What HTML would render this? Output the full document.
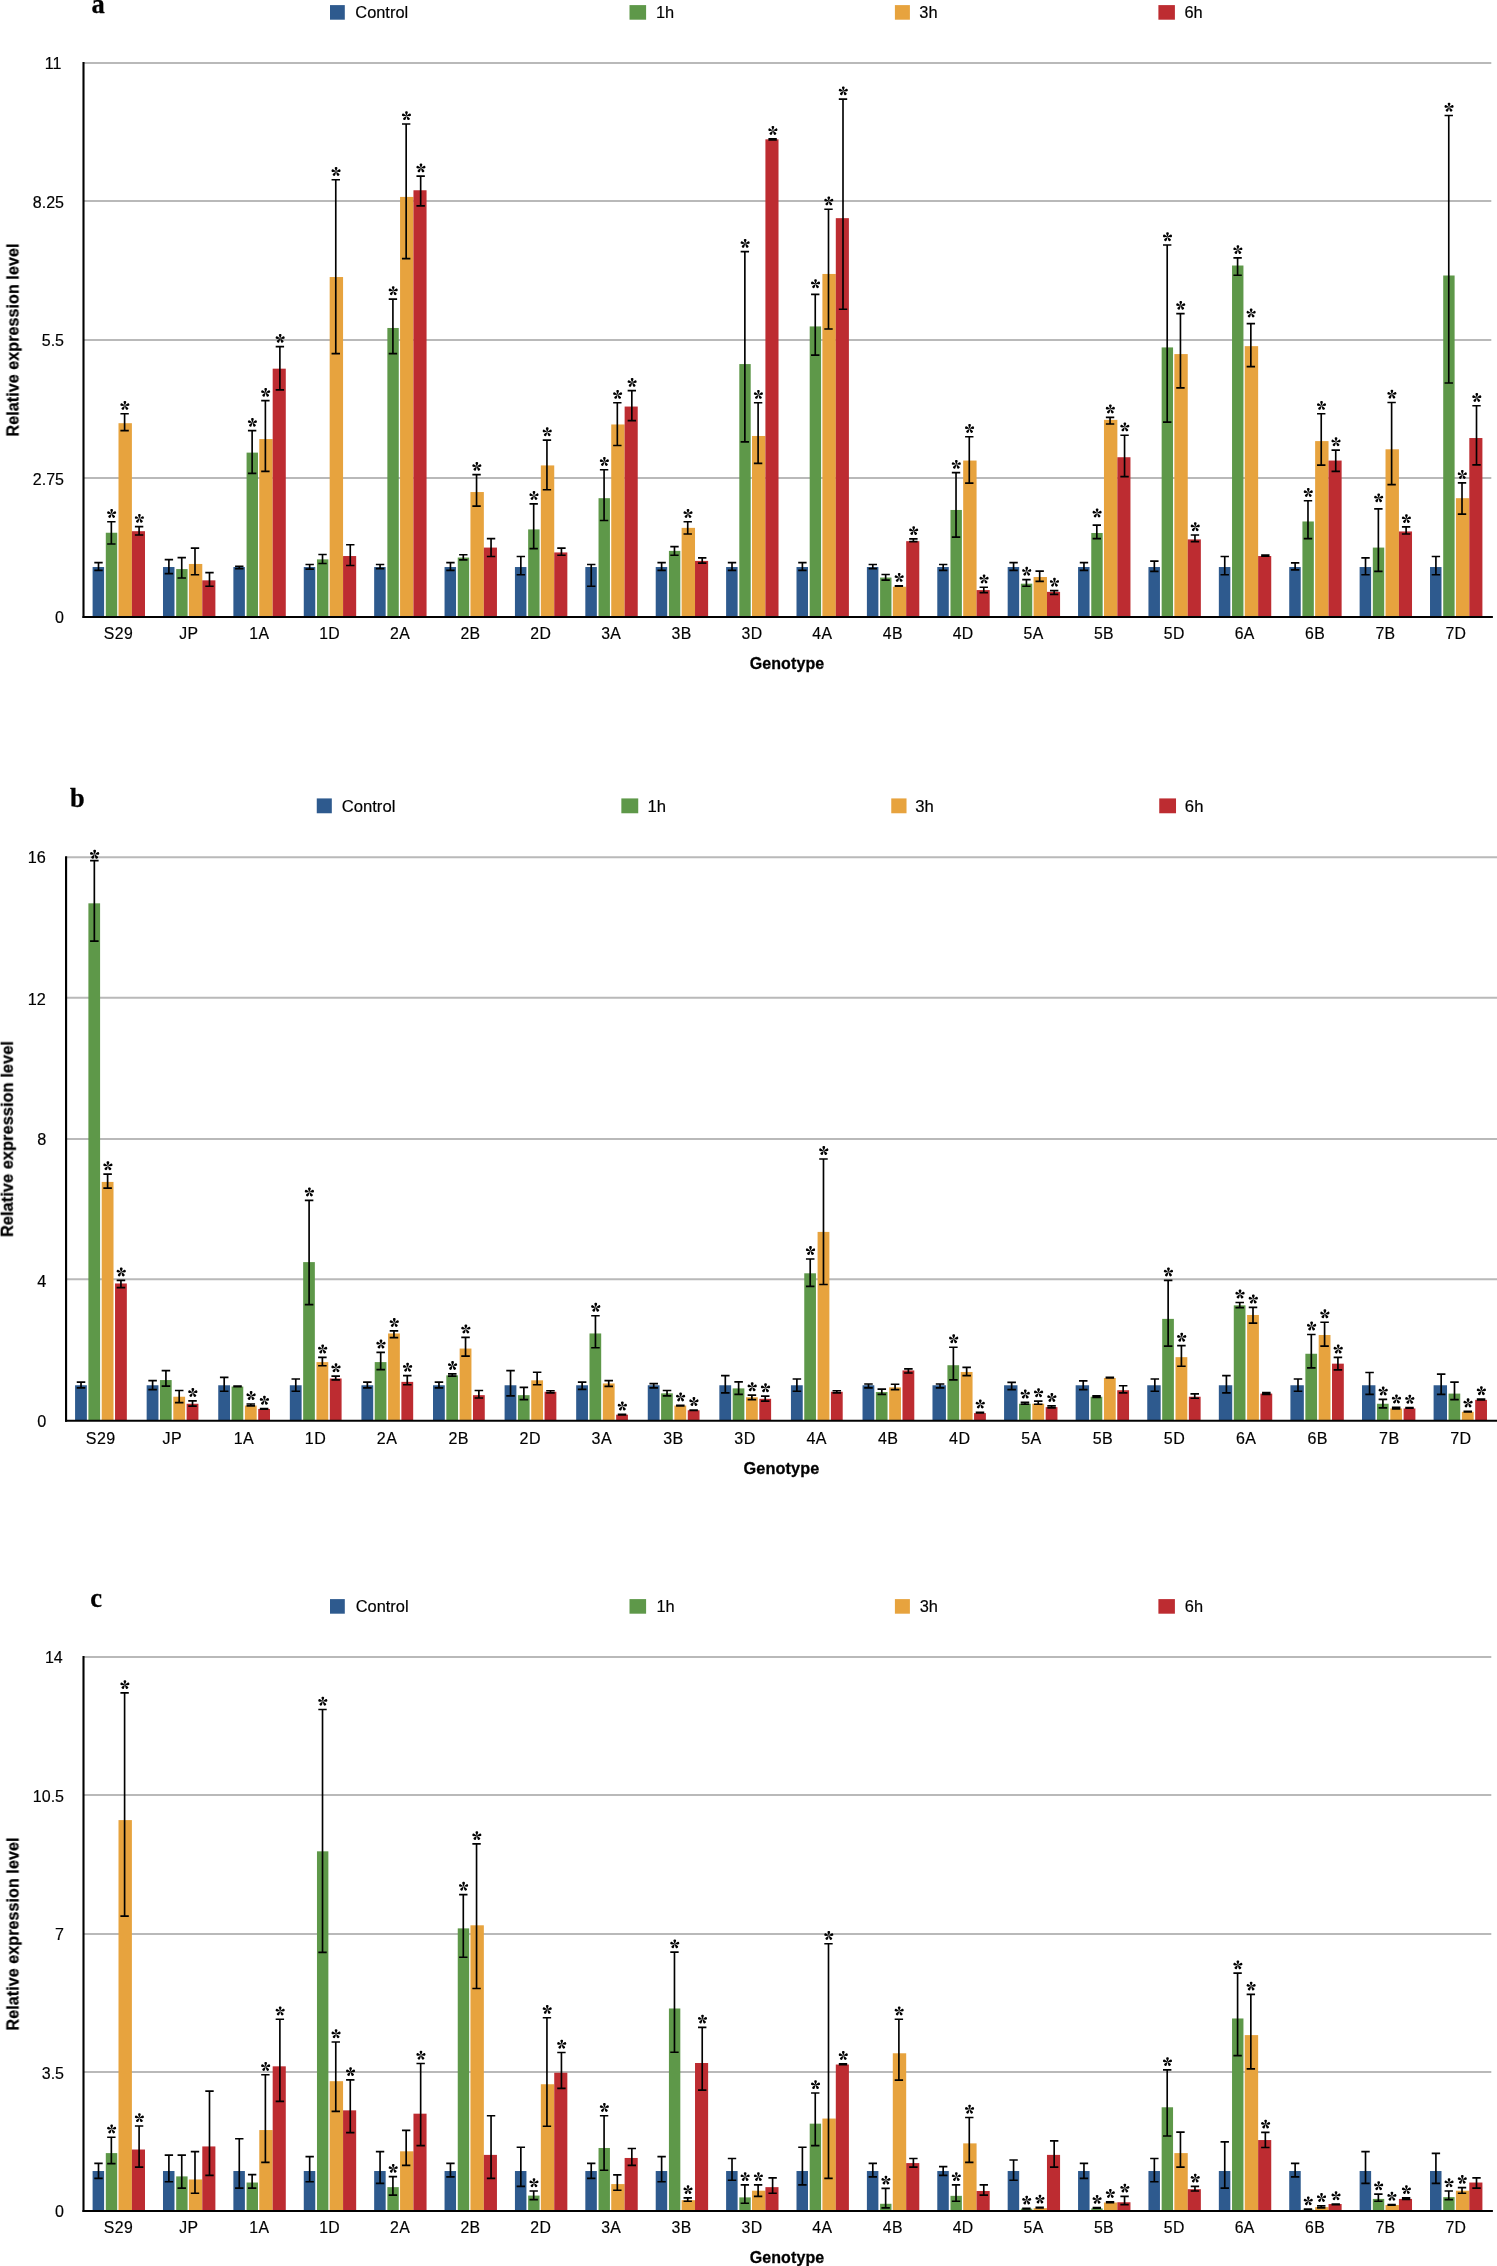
<!DOCTYPE html>
<html><head><meta charset="utf-8"><title>Figure</title>
<style>html,body{margin:0;padding:0;background:#fff}svg{display:block}svg text{stroke:#000;stroke-width:0.18px}svg text[font-weight=bold]{stroke-width:0.28px}</style>
</head><body>
<svg width="1497" height="2266" viewBox="0 0 1497 2266" font-family='"Liberation Sans", sans-serif' fill="#000">
<defs><g id="st"><path transform="rotate(0)" d="M0 0.1C-0.3 -1 -1.4 -2.7 -1.35 -3.7C-1.3 -5.05 1.3 -5.05 1.35 -3.7C1.4 -2.7 0.3 -1 0 0.1Z"/><path transform="rotate(72)" d="M0 0.1C-0.3 -1 -1.4 -2.7 -1.35 -3.7C-1.3 -5.05 1.3 -5.05 1.35 -3.7C1.4 -2.7 0.3 -1 0 0.1Z"/><path transform="rotate(144)" d="M0 0.1C-0.3 -1 -1.4 -2.7 -1.35 -3.7C-1.3 -5.05 1.3 -5.05 1.35 -3.7C1.4 -2.7 0.3 -1 0 0.1Z"/><path transform="rotate(216)" d="M0 0.1C-0.3 -1 -1.4 -2.7 -1.35 -3.7C-1.3 -5.05 1.3 -5.05 1.35 -3.7C1.4 -2.7 0.3 -1 0 0.1Z"/><path transform="rotate(288)" d="M0 0.1C-0.3 -1 -1.4 -2.7 -1.35 -3.7C-1.3 -5.05 1.3 -5.05 1.35 -3.7C1.4 -2.7 0.3 -1 0 0.1Z"/></g></defs>
<g transform="translate(0,0) scale(1)" opacity="0.999">
<text x="64" y="623" text-anchor="end" font-size="16">0</text>
<line x1="83.5" x2="1491.3" y1="478" y2="478" stroke="#b9b9b9" stroke-width="2"/>
<text x="64" y="485.4" text-anchor="end" font-size="16">2.75</text>
<line x1="83.5" x2="1491.3" y1="340" y2="340" stroke="#b9b9b9" stroke-width="2"/>
<text x="64" y="346" text-anchor="end" font-size="16">5.5</text>
<line x1="83.5" x2="1491.3" y1="201" y2="201" stroke="#b9b9b9" stroke-width="2"/>
<text x="64" y="208.3" text-anchor="end" font-size="16">8.25</text>
<line x1="83.5" x2="1491.3" y1="63" y2="63" stroke="#b9b9b9" stroke-width="2"/>
<text x="61.4" y="69.25" text-anchor="end" font-size="16">11</text>
<rect x="92.6" y="567.03" width="11.5" height="49.97" fill="#2E5A8E"/>
<rect x="105.8" y="532.74" width="11.4" height="84.26" fill="#5E9849"/>
<rect x="118.5" y="423.19" width="13.4" height="193.81" fill="#E7A33E"/>
<rect x="131.9" y="531.2" width="13.1" height="85.8" fill="#BD2C31"/>
<rect x="162.99" y="567.03" width="11.5" height="49.97" fill="#2E5A8E"/>
<rect x="176.19" y="569.08" width="11.4" height="47.92" fill="#5E9849"/>
<rect x="188.89" y="563.96" width="13.4" height="53.04" fill="#E7A33E"/>
<rect x="202.29" y="580.34" width="13.1" height="36.66" fill="#BD2C31"/>
<rect x="233.38" y="567.03" width="11.5" height="49.97" fill="#2E5A8E"/>
<rect x="246.58" y="452.62" width="11.4" height="164.38" fill="#5E9849"/>
<rect x="259.28" y="439.06" width="13.4" height="177.94" fill="#E7A33E"/>
<rect x="272.68" y="368.67" width="13.1" height="248.33" fill="#BD2C31"/>
<rect x="303.77" y="567.03" width="11.5" height="49.97" fill="#2E5A8E"/>
<rect x="316.97" y="559.36" width="11.4" height="57.64" fill="#5E9849"/>
<rect x="329.67" y="277.03" width="13.4" height="339.97" fill="#E7A33E"/>
<rect x="343.07" y="556.03" width="13.1" height="60.97" fill="#BD2C31"/>
<rect x="374.16" y="567.03" width="11.5" height="49.97" fill="#2E5A8E"/>
<rect x="387.36" y="327.97" width="11.4" height="289.03" fill="#5E9849"/>
<rect x="400.06" y="196.92" width="13.4" height="420.08" fill="#E7A33E"/>
<rect x="413.46" y="190.26" width="13.1" height="426.74" fill="#BD2C31"/>
<rect x="444.55" y="567.03" width="11.5" height="49.97" fill="#2E5A8E"/>
<rect x="457.75" y="557.56" width="11.4" height="59.44" fill="#5E9849"/>
<rect x="470.45" y="492.04" width="13.4" height="124.96" fill="#E7A33E"/>
<rect x="483.85" y="547.58" width="13.1" height="69.42" fill="#BD2C31"/>
<rect x="514.94" y="567.03" width="11.5" height="49.97" fill="#2E5A8E"/>
<rect x="528.14" y="529.41" width="11.4" height="87.59" fill="#5E9849"/>
<rect x="540.84" y="465.42" width="13.4" height="151.58" fill="#E7A33E"/>
<rect x="554.24" y="552.44" width="13.1" height="64.56" fill="#BD2C31"/>
<rect x="585.33" y="567.03" width="11.5" height="49.97" fill="#2E5A8E"/>
<rect x="598.53" y="498.18" width="11.4" height="118.82" fill="#5E9849"/>
<rect x="611.23" y="424.47" width="13.4" height="192.53" fill="#E7A33E"/>
<rect x="624.63" y="406.55" width="13.1" height="210.45" fill="#BD2C31"/>
<rect x="655.72" y="567.03" width="11.5" height="49.97" fill="#2E5A8E"/>
<rect x="668.92" y="550.91" width="11.4" height="66.09" fill="#5E9849"/>
<rect x="681.62" y="527.87" width="13.4" height="89.13" fill="#E7A33E"/>
<rect x="695.02" y="560.89" width="13.1" height="56.11" fill="#BD2C31"/>
<rect x="726.11" y="567.03" width="11.5" height="49.97" fill="#2E5A8E"/>
<rect x="739.31" y="364.06" width="11.4" height="252.94" fill="#5E9849"/>
<rect x="752.01" y="435.98" width="13.4" height="181.02" fill="#E7A33E"/>
<rect x="765.41" y="139.33" width="13.1" height="477.67" fill="#BD2C31"/>
<rect x="796.5" y="567.03" width="11.5" height="49.97" fill="#2E5A8E"/>
<rect x="809.7" y="326.43" width="11.4" height="290.57" fill="#5E9849"/>
<rect x="822.4" y="273.96" width="13.4" height="343.04" fill="#E7A33E"/>
<rect x="835.8" y="218.16" width="13.1" height="398.84" fill="#BD2C31"/>
<rect x="866.89" y="567.03" width="11.5" height="49.97" fill="#2E5A8E"/>
<rect x="880.09" y="577.53" width="11.4" height="39.47" fill="#5E9849"/>
<rect x="892.79" y="586.74" width="13.4" height="30.26" fill="#E7A33E"/>
<rect x="906.19" y="541.18" width="13.1" height="75.82" fill="#BD2C31"/>
<rect x="937.28" y="567.03" width="11.5" height="49.97" fill="#2E5A8E"/>
<rect x="950.48" y="509.96" width="11.4" height="107.04" fill="#5E9849"/>
<rect x="963.18" y="460.56" width="13.4" height="156.44" fill="#E7A33E"/>
<rect x="976.58" y="590.07" width="13.1" height="26.93" fill="#BD2C31"/>
<rect x="1007.67" y="567.03" width="11.5" height="49.97" fill="#2E5A8E"/>
<rect x="1020.87" y="583.67" width="11.4" height="33.33" fill="#5E9849"/>
<rect x="1033.57" y="577.02" width="13.4" height="39.98" fill="#E7A33E"/>
<rect x="1046.97" y="591.86" width="13.1" height="25.14" fill="#BD2C31"/>
<rect x="1078.06" y="567.03" width="11.5" height="49.97" fill="#2E5A8E"/>
<rect x="1091.26" y="532.99" width="11.4" height="84.01" fill="#5E9849"/>
<rect x="1103.96" y="419.86" width="13.4" height="197.14" fill="#E7A33E"/>
<rect x="1117.36" y="457.23" width="13.1" height="159.77" fill="#BD2C31"/>
<rect x="1148.45" y="567.03" width="11.5" height="49.97" fill="#2E5A8E"/>
<rect x="1161.65" y="347.42" width="11.4" height="269.58" fill="#5E9849"/>
<rect x="1174.35" y="354.08" width="13.4" height="262.92" fill="#E7A33E"/>
<rect x="1187.75" y="539.39" width="13.1" height="77.61" fill="#BD2C31"/>
<rect x="1218.84" y="567.03" width="11.5" height="49.97" fill="#2E5A8E"/>
<rect x="1232.04" y="265.52" width="11.4" height="351.48" fill="#5E9849"/>
<rect x="1244.74" y="346.14" width="13.4" height="270.86" fill="#E7A33E"/>
<rect x="1258.14" y="556.03" width="13.1" height="60.97" fill="#BD2C31"/>
<rect x="1289.23" y="567.03" width="11.5" height="49.97" fill="#2E5A8E"/>
<rect x="1302.43" y="521.47" width="11.4" height="95.53" fill="#5E9849"/>
<rect x="1315.13" y="441.1" width="13.4" height="175.9" fill="#E7A33E"/>
<rect x="1328.53" y="460.56" width="13.1" height="156.44" fill="#BD2C31"/>
<rect x="1359.62" y="567.03" width="11.5" height="49.97" fill="#2E5A8E"/>
<rect x="1372.82" y="547.58" width="11.4" height="69.42" fill="#5E9849"/>
<rect x="1385.52" y="449.29" width="13.4" height="167.71" fill="#E7A33E"/>
<rect x="1398.92" y="531.46" width="13.1" height="85.54" fill="#BD2C31"/>
<rect x="1430.01" y="567.03" width="11.5" height="49.97" fill="#2E5A8E"/>
<rect x="1443.21" y="275.5" width="11.4" height="341.5" fill="#5E9849"/>
<rect x="1455.91" y="498.18" width="13.4" height="118.82" fill="#E7A33E"/>
<rect x="1469.31" y="438.03" width="13.1" height="178.97" fill="#BD2C31"/>
<line x1="83.5" x2="83.5" y1="62" y2="618" stroke="#000" stroke-width="2.1"/>
<line x1="82.5" x2="1492.9" y1="617" y2="617" stroke="#000" stroke-width="2.1"/>
<path d="M98.5 562.68V570.36M94.3 562.68h8.4M94.3 570.36h8.4" stroke="#000" stroke-width="1.65" fill="none"/>
<path d="M111.35 521.73V544M107.15 521.73h8.4M107.15 544h8.4" stroke="#000" stroke-width="1.65" fill="none"/>
<use href="#st" x="111.65" y="513.73"/>
<path d="M124.6 413.72V430.61M120.4 413.72h8.4M120.4 430.61h8.4" stroke="#000" stroke-width="1.65" fill="none"/>
<use href="#st" x="124.9" y="405.72"/>
<path d="M139.1 526.59V535.04M134.9 526.59h8.4M134.9 535.04h8.4" stroke="#000" stroke-width="1.65" fill="none"/>
<use href="#st" x="139.4" y="518.59"/>
<path d="M168.89 559.61V573.69M164.69 559.61h8.4M164.69 573.69h8.4" stroke="#000" stroke-width="1.65" fill="none"/>
<path d="M181.74 557.56V578.04M177.54 557.56h8.4M177.54 578.04h8.4" stroke="#000" stroke-width="1.65" fill="none"/>
<path d="M194.99 548.09V574.71M190.79 548.09h8.4M190.79 574.71h8.4" stroke="#000" stroke-width="1.65" fill="none"/>
<path d="M209.49 572.67V586.23M205.29 572.67h8.4M205.29 586.23h8.4" stroke="#000" stroke-width="1.65" fill="none"/>
<path d="M239.28 566.27V568.57M235.08 566.27h8.4M235.08 568.57h8.4" stroke="#000" stroke-width="1.65" fill="none"/>
<path d="M252.13 430.61V473.35M247.93 430.61h8.4M247.93 473.35h8.4" stroke="#000" stroke-width="1.65" fill="none"/>
<use href="#st" x="252.43" y="422.61"/>
<path d="M265.38 400.66V471.31M261.18 400.66h8.4M261.18 471.31h8.4" stroke="#000" stroke-width="1.65" fill="none"/>
<use href="#st" x="265.68" y="392.66"/>
<path d="M279.88 346.65V389.91M275.68 346.65h8.4M275.68 389.91h8.4" stroke="#000" stroke-width="1.65" fill="none"/>
<use href="#st" x="280.18" y="338.65"/>
<path d="M309.67 564.47V569.08M305.47 564.47h8.4M305.47 569.08h8.4" stroke="#000" stroke-width="1.65" fill="none"/>
<path d="M322.52 554.49V563.45M318.32 554.49h8.4M318.32 563.45h8.4" stroke="#000" stroke-width="1.65" fill="none"/>
<path d="M335.77 179.77V353.57M331.57 179.77h8.4M331.57 353.57h8.4" stroke="#000" stroke-width="1.65" fill="none"/>
<use href="#st" x="336.07" y="171.77"/>
<path d="M350.27 544.77V565.5M346.07 544.77h8.4M346.07 565.5h8.4" stroke="#000" stroke-width="1.65" fill="none"/>
<path d="M380.06 564.47V568.57M375.86 564.47h8.4M375.86 568.57h8.4" stroke="#000" stroke-width="1.65" fill="none"/>
<path d="M392.91 299.05V353.57M388.71 299.05h8.4M388.71 353.57h8.4" stroke="#000" stroke-width="1.65" fill="none"/>
<use href="#st" x="393.21" y="291.05"/>
<path d="M406.16 123.97V258.61M401.96 123.97h8.4M401.96 258.61h8.4" stroke="#000" stroke-width="1.65" fill="none"/>
<use href="#st" x="406.46" y="115.97"/>
<path d="M420.66 176.19V205.88M416.46 176.19h8.4M416.46 205.88h8.4" stroke="#000" stroke-width="1.65" fill="none"/>
<use href="#st" x="420.96" y="168.19"/>
<path d="M450.45 562.68V570.36M446.25 562.68h8.4M446.25 570.36h8.4" stroke="#000" stroke-width="1.65" fill="none"/>
<path d="M463.3 554.75V559.87M459.1 554.75h8.4M459.1 559.87h8.4" stroke="#000" stroke-width="1.65" fill="none"/>
<path d="M476.55 474.63V506.12M472.35 474.63h8.4M472.35 506.12h8.4" stroke="#000" stroke-width="1.65" fill="none"/>
<use href="#st" x="476.85" y="466.63"/>
<path d="M491.05 538.62V556.54M486.85 538.62h8.4M486.85 556.54h8.4" stroke="#000" stroke-width="1.65" fill="none"/>
<path d="M520.84 556.54V574.71M516.64 556.54h8.4M516.64 574.71h8.4" stroke="#000" stroke-width="1.65" fill="none"/>
<path d="M533.69 503.81V548.61M529.49 503.81h8.4M529.49 548.61h8.4" stroke="#000" stroke-width="1.65" fill="none"/>
<use href="#st" x="533.99" y="495.81"/>
<path d="M546.94 440.08V489.73M542.74 440.08h8.4M542.74 489.73h8.4" stroke="#000" stroke-width="1.65" fill="none"/>
<use href="#st" x="547.24" y="432.08"/>
<path d="M561.44 548.09V555.26M557.24 548.09h8.4M557.24 555.26h8.4" stroke="#000" stroke-width="1.65" fill="none"/>
<path d="M591.23 564.47V586.23M587.03 564.47h8.4M587.03 586.23h8.4" stroke="#000" stroke-width="1.65" fill="none"/>
<path d="M604.08 469.77V520.45M599.88 469.77h8.4M599.88 520.45h8.4" stroke="#000" stroke-width="1.65" fill="none"/>
<use href="#st" x="604.38" y="461.77"/>
<path d="M617.33 402.71V445.45M613.13 402.71h8.4M613.13 445.45h8.4" stroke="#000" stroke-width="1.65" fill="none"/>
<use href="#st" x="617.63" y="394.71"/>
<path d="M631.83 390.68V420.63M627.63 390.68h8.4M627.63 420.63h8.4" stroke="#000" stroke-width="1.65" fill="none"/>
<use href="#st" x="632.13" y="382.68"/>
<path d="M661.62 562.68V570.36M657.42 562.68h8.4M657.42 570.36h8.4" stroke="#000" stroke-width="1.65" fill="none"/>
<path d="M674.47 546.56V555.26M670.27 546.56h8.4M670.27 555.26h8.4" stroke="#000" stroke-width="1.65" fill="none"/>
<path d="M687.72 521.73V534.02M683.52 521.73h8.4M683.52 534.02h8.4" stroke="#000" stroke-width="1.65" fill="none"/>
<use href="#st" x="688.02" y="513.73"/>
<path d="M702.22 557.82V563.19M698.02 557.82h8.4M698.02 563.19h8.4" stroke="#000" stroke-width="1.65" fill="none"/>
<path d="M732.01 562.68V570.36M727.81 562.68h8.4M727.81 570.36h8.4" stroke="#000" stroke-width="1.65" fill="none"/>
<path d="M744.86 251.69V441.87M740.66 251.69h8.4M740.66 441.87h8.4" stroke="#000" stroke-width="1.65" fill="none"/>
<use href="#st" x="745.16" y="243.69"/>
<path d="M758.11 402.71V463.37M753.91 402.71h8.4M753.91 463.37h8.4" stroke="#000" stroke-width="1.65" fill="none"/>
<use href="#st" x="758.41" y="394.71"/>
<path d="M772.61 138.82V139.84M768.41 138.82h8.4M768.41 139.84h8.4" stroke="#000" stroke-width="1.65" fill="none"/>
<use href="#st" x="772.91" y="130.82"/>
<path d="M802.4 562.68V570.36M798.2 562.68h8.4M798.2 570.36h8.4" stroke="#000" stroke-width="1.65" fill="none"/>
<path d="M815.25 294.44V355.1M811.05 294.44h8.4M811.05 355.1h8.4" stroke="#000" stroke-width="1.65" fill="none"/>
<use href="#st" x="815.55" y="284.04"/>
<path d="M828.5 209.21V328.99M824.3 209.21h8.4M824.3 328.99h8.4" stroke="#000" stroke-width="1.65" fill="none"/>
<use href="#st" x="828.8" y="201.21"/>
<path d="M843 99.14V309.28M838.8 99.14h8.4M838.8 309.28h8.4" stroke="#000" stroke-width="1.65" fill="none"/>
<use href="#st" x="843.3" y="91.14"/>
<path d="M872.79 564.47V568.57M868.59 564.47h8.4M868.59 568.57h8.4" stroke="#000" stroke-width="1.65" fill="none"/>
<path d="M885.64 574.46V580.09M881.44 574.46h8.4M881.44 580.09h8.4" stroke="#000" stroke-width="1.65" fill="none"/>
<path d="M898.89 585.72V586.23M894.69 585.72h8.4M894.69 586.23h8.4" stroke="#000" stroke-width="1.65" fill="none"/>
<use href="#st" x="899.19" y="577.72"/>
<path d="M913.39 538.88V541.69M909.19 538.88h8.4M909.19 541.69h8.4" stroke="#000" stroke-width="1.65" fill="none"/>
<use href="#st" x="913.69" y="530.88"/>
<path d="M943.18 564.47V570.36M938.98 564.47h8.4M938.98 570.36h8.4" stroke="#000" stroke-width="1.65" fill="none"/>
<path d="M956.03 472.59V537.09M951.83 472.59h8.4M951.83 537.09h8.4" stroke="#000" stroke-width="1.65" fill="none"/>
<use href="#st" x="956.33" y="464.59"/>
<path d="M969.28 436.75V483.08M965.08 436.75h8.4M965.08 483.08h8.4" stroke="#000" stroke-width="1.65" fill="none"/>
<use href="#st" x="969.58" y="428.75"/>
<path d="M983.78 587.25V592.63M979.58 587.25h8.4M979.58 592.63h8.4" stroke="#000" stroke-width="1.65" fill="none"/>
<use href="#st" x="984.08" y="579.25"/>
<path d="M1013.57 562.68V570.36M1009.37 562.68h8.4M1009.37 570.36h8.4" stroke="#000" stroke-width="1.65" fill="none"/>
<path d="M1026.42 579.58V586.23M1022.22 579.58h8.4M1022.22 586.23h8.4" stroke="#000" stroke-width="1.65" fill="none"/>
<use href="#st" x="1026.72" y="571.58"/>
<path d="M1039.67 571.13V581.37M1035.47 571.13h8.4M1035.47 581.37h8.4" stroke="#000" stroke-width="1.65" fill="none"/>
<path d="M1054.17 590.58V594.42M1049.97 590.58h8.4M1049.97 594.42h8.4" stroke="#000" stroke-width="1.65" fill="none"/>
<use href="#st" x="1054.47" y="582.58"/>
<path d="M1083.96 562.68V570.36M1079.76 562.68h8.4M1079.76 570.36h8.4" stroke="#000" stroke-width="1.65" fill="none"/>
<path d="M1096.81 525.06V538.62M1092.61 525.06h8.4M1092.61 538.62h8.4" stroke="#000" stroke-width="1.65" fill="none"/>
<use href="#st" x="1097.11" y="513.26"/>
<path d="M1110.06 417.3V423.95M1105.86 417.3h8.4M1105.86 423.95h8.4" stroke="#000" stroke-width="1.65" fill="none"/>
<use href="#st" x="1110.36" y="409.3"/>
<path d="M1124.56 435.22V476.68M1120.36 435.22h8.4M1120.36 476.68h8.4" stroke="#000" stroke-width="1.65" fill="none"/>
<use href="#st" x="1124.86" y="427.22"/>
<path d="M1154.35 561.15V571.39M1150.15 561.15h8.4M1150.15 571.39h8.4" stroke="#000" stroke-width="1.65" fill="none"/>
<path d="M1167.2 245.04V422.16M1163 245.04h8.4M1163 422.16h8.4" stroke="#000" stroke-width="1.65" fill="none"/>
<use href="#st" x="1167.5" y="237.04"/>
<path d="M1180.45 313.64V387.86M1176.25 313.64h8.4M1176.25 387.86h8.4" stroke="#000" stroke-width="1.65" fill="none"/>
<use href="#st" x="1180.75" y="305.64"/>
<path d="M1194.95 535.04V541.69M1190.75 535.04h8.4M1190.75 541.69h8.4" stroke="#000" stroke-width="1.65" fill="none"/>
<use href="#st" x="1195.25" y="527.04"/>
<path d="M1224.74 556.54V574.71M1220.54 556.54h8.4M1220.54 574.71h8.4" stroke="#000" stroke-width="1.65" fill="none"/>
<path d="M1237.59 257.84V275.24M1233.39 257.84h8.4M1233.39 275.24h8.4" stroke="#000" stroke-width="1.65" fill="none"/>
<use href="#st" x="1237.89" y="249.84"/>
<path d="M1250.84 323.62V366.62M1246.64 323.62h8.4M1246.64 366.62h8.4" stroke="#000" stroke-width="1.65" fill="none"/>
<use href="#st" x="1251.14" y="313.32"/>
<path d="M1265.34 555V556.28M1261.14 555h8.4M1261.14 556.28h8.4" stroke="#000" stroke-width="1.65" fill="none"/>
<path d="M1295.13 562.94V569.85M1290.93 562.94h8.4M1290.93 569.85h8.4" stroke="#000" stroke-width="1.65" fill="none"/>
<path d="M1307.98 500.74V538.62M1303.78 500.74h8.4M1303.78 538.62h8.4" stroke="#000" stroke-width="1.65" fill="none"/>
<use href="#st" x="1308.28" y="492.74"/>
<path d="M1321.23 413.72V465.16M1317.03 413.72h8.4M1317.03 465.16h8.4" stroke="#000" stroke-width="1.65" fill="none"/>
<use href="#st" x="1321.53" y="405.72"/>
<path d="M1335.73 450.06V471.31M1331.53 450.06h8.4M1331.53 471.31h8.4" stroke="#000" stroke-width="1.65" fill="none"/>
<use href="#st" x="1336.03" y="442.06"/>
<path d="M1365.52 557.82V574.71M1361.32 557.82h8.4M1361.32 574.71h8.4" stroke="#000" stroke-width="1.65" fill="none"/>
<path d="M1378.37 508.93V571.39M1374.17 508.93h8.4M1374.17 571.39h8.4" stroke="#000" stroke-width="1.65" fill="none"/>
<use href="#st" x="1378.67" y="498.13"/>
<path d="M1391.62 402.45V484.62M1387.42 402.45h8.4M1387.42 484.62h8.4" stroke="#000" stroke-width="1.65" fill="none"/>
<use href="#st" x="1391.92" y="394.45"/>
<path d="M1406.12 526.85V534.02M1401.92 526.85h8.4M1401.92 534.02h8.4" stroke="#000" stroke-width="1.65" fill="none"/>
<use href="#st" x="1406.42" y="518.85"/>
<path d="M1435.91 556.54V574.71M1431.71 556.54h8.4M1431.71 574.71h8.4" stroke="#000" stroke-width="1.65" fill="none"/>
<path d="M1448.76 115.53V383M1444.56 115.53h8.4M1444.56 383h8.4" stroke="#000" stroke-width="1.65" fill="none"/>
<use href="#st" x="1449.06" y="107.53"/>
<path d="M1462.01 482.82V514.05M1457.81 482.82h8.4M1457.81 514.05h8.4" stroke="#000" stroke-width="1.65" fill="none"/>
<use href="#st" x="1462.31" y="474.82"/>
<path d="M1476.51 405.78V464.91M1472.31 405.78h8.4M1472.31 464.91h8.4" stroke="#000" stroke-width="1.65" fill="none"/>
<use href="#st" x="1476.81" y="397.78"/>
<text x="118.49" y="639.3" text-anchor="middle" font-size="15.8" letter-spacing="0.4">S29</text>
<text x="188.88" y="639.3" text-anchor="middle" font-size="15.8" letter-spacing="0.4">JP</text>
<text x="259.28" y="639.3" text-anchor="middle" font-size="15.8" letter-spacing="0.4">1A</text>
<text x="329.67" y="639.3" text-anchor="middle" font-size="15.8" letter-spacing="0.4">1D</text>
<text x="400.06" y="639.3" text-anchor="middle" font-size="15.8" letter-spacing="0.4">2A</text>
<text x="470.44" y="639.3" text-anchor="middle" font-size="15.8" letter-spacing="0.4">2B</text>
<text x="540.84" y="639.3" text-anchor="middle" font-size="15.8" letter-spacing="0.4">2D</text>
<text x="611.23" y="639.3" text-anchor="middle" font-size="15.8" letter-spacing="0.4">3A</text>
<text x="681.62" y="639.3" text-anchor="middle" font-size="15.8" letter-spacing="0.4">3B</text>
<text x="752.01" y="639.3" text-anchor="middle" font-size="15.8" letter-spacing="0.4">3D</text>
<text x="822.4" y="639.3" text-anchor="middle" font-size="15.8" letter-spacing="0.4">4A</text>
<text x="892.79" y="639.3" text-anchor="middle" font-size="15.8" letter-spacing="0.4">4B</text>
<text x="963.18" y="639.3" text-anchor="middle" font-size="15.8" letter-spacing="0.4">4D</text>
<text x="1033.57" y="639.3" text-anchor="middle" font-size="15.8" letter-spacing="0.4">5A</text>
<text x="1103.95" y="639.3" text-anchor="middle" font-size="15.8" letter-spacing="0.4">5B</text>
<text x="1174.34" y="639.3" text-anchor="middle" font-size="15.8" letter-spacing="0.4">5D</text>
<text x="1244.73" y="639.3" text-anchor="middle" font-size="15.8" letter-spacing="0.4">6A</text>
<text x="1315.12" y="639.3" text-anchor="middle" font-size="15.8" letter-spacing="0.4">6B</text>
<text x="1385.51" y="639.3" text-anchor="middle" font-size="15.8" letter-spacing="0.4">7B</text>
<text x="1455.9" y="639.3" text-anchor="middle" font-size="15.8" letter-spacing="0.4">7D</text>
<text x="787" y="668.9" text-anchor="middle" font-size="16" font-weight="bold" stroke="#000" stroke-width="0.25" letter-spacing="0.1">Genotype</text>
<text transform="translate(18.5,340) rotate(-90)" text-anchor="middle" font-size="16" font-weight="bold" stroke="#000" stroke-width="0.25" letter-spacing="0.1">Relative expression level</text>
<rect x="330" y="5.1" width="14.8" height="14.6" fill="#2E5A8E"/>
<text x="355.3" y="18.3" font-size="16.4">Control</text>
<rect x="629.5" y="5.1" width="16.6" height="14.6" fill="#5E9849"/>
<text x="656" y="18.3" font-size="16.4">1h</text>
<rect x="894.9" y="5.1" width="15" height="14.6" fill="#E7A33E"/>
<text x="919.3" y="18.3" font-size="16.4">3h</text>
<rect x="1158.4" y="5.1" width="16.5" height="14.6" fill="#BD2C31"/>
<text x="1184.4" y="18.3" font-size="16.4">6h</text>
<text x="91.6" y="13" font-size="26.5" font-weight="bold" font-family='"Liberation Serif", serif'>a</text>
</g>
<g transform="translate(-18.85,793.23) scale(1.017)" opacity="0.999">
<text x="64" y="622.95" text-anchor="end" font-size="16">0</text>
<line x1="83.5" x2="1500" y1="478" y2="478" stroke="#b9b9b9" stroke-width="2"/>
<text x="64" y="485.72" text-anchor="end" font-size="16">4</text>
<line x1="83.5" x2="1500" y1="340" y2="340" stroke="#b9b9b9" stroke-width="2"/>
<text x="64" y="346" text-anchor="end" font-size="16">8</text>
<line x1="83.5" x2="1500" y1="201" y2="201" stroke="#b9b9b9" stroke-width="2"/>
<text x="63.5" y="208.47" text-anchor="end" font-size="16">12</text>
<line x1="83.5" x2="1500" y1="63" y2="63" stroke="#b9b9b9" stroke-width="2"/>
<text x="63.5" y="69.09" text-anchor="end" font-size="16">16</text>
<rect x="92.35" y="582.14" width="11.6" height="34.86" fill="#2E5A8E"/>
<rect x="105.45" y="108.25" width="11.5" height="508.75" fill="#5E9849"/>
<rect x="118.55" y="382.19" width="11.6" height="234.81" fill="#E7A33E"/>
<rect x="131.65" y="482.04" width="11.6" height="134.96" fill="#BD2C31"/>
<rect x="162.74" y="582.14" width="11.6" height="34.86" fill="#2E5A8E"/>
<rect x="175.84" y="577.02" width="11.5" height="39.98" fill="#5E9849"/>
<rect x="188.94" y="593.41" width="11.6" height="23.59" fill="#E7A33E"/>
<rect x="202.04" y="600.32" width="11.6" height="16.68" fill="#BD2C31"/>
<rect x="233.13" y="582.14" width="11.6" height="34.86" fill="#2E5A8E"/>
<rect x="246.23" y="583.42" width="11.5" height="33.58" fill="#5E9849"/>
<rect x="259.33" y="602.11" width="11.6" height="14.89" fill="#E7A33E"/>
<rect x="272.43" y="605.44" width="11.6" height="11.56" fill="#BD2C31"/>
<rect x="303.52" y="582.14" width="11.6" height="34.86" fill="#2E5A8E"/>
<rect x="316.62" y="461.04" width="11.5" height="155.96" fill="#5E9849"/>
<rect x="329.72" y="559.36" width="11.6" height="57.64" fill="#E7A33E"/>
<rect x="342.82" y="575.48" width="11.6" height="41.52" fill="#BD2C31"/>
<rect x="373.91" y="582.14" width="11.6" height="34.86" fill="#2E5A8E"/>
<rect x="387.01" y="559.36" width="11.5" height="57.64" fill="#5E9849"/>
<rect x="400.11" y="531.19" width="11.6" height="85.81" fill="#E7A33E"/>
<rect x="413.21" y="578.81" width="11.6" height="38.19" fill="#BD2C31"/>
<rect x="444.3" y="582.14" width="11.6" height="34.86" fill="#2E5A8E"/>
<rect x="457.4" y="572.41" width="11.5" height="44.59" fill="#5E9849"/>
<rect x="470.5" y="546.04" width="11.6" height="70.96" fill="#E7A33E"/>
<rect x="483.6" y="591.87" width="11.6" height="25.13" fill="#BD2C31"/>
<rect x="514.69" y="582.14" width="11.6" height="34.86" fill="#2E5A8E"/>
<rect x="527.79" y="591.87" width="11.5" height="25.13" fill="#5E9849"/>
<rect x="540.89" y="577.28" width="11.6" height="39.72" fill="#E7A33E"/>
<rect x="553.99" y="588.54" width="11.6" height="28.46" fill="#BD2C31"/>
<rect x="585.08" y="582.14" width="11.6" height="34.86" fill="#2E5A8E"/>
<rect x="598.18" y="531.19" width="11.5" height="85.81" fill="#5E9849"/>
<rect x="611.28" y="580.35" width="11.6" height="36.65" fill="#E7A33E"/>
<rect x="624.38" y="611.07" width="11.6" height="5.93" fill="#BD2C31"/>
<rect x="655.47" y="582.14" width="11.6" height="34.86" fill="#2E5A8E"/>
<rect x="668.57" y="590.08" width="11.5" height="26.92" fill="#5E9849"/>
<rect x="681.67" y="602.11" width="11.6" height="14.89" fill="#E7A33E"/>
<rect x="694.77" y="606.72" width="11.6" height="10.28" fill="#BD2C31"/>
<rect x="725.86" y="582.14" width="11.6" height="34.86" fill="#2E5A8E"/>
<rect x="738.96" y="585.21" width="11.5" height="31.79" fill="#5E9849"/>
<rect x="752.06" y="593.92" width="11.6" height="23.08" fill="#E7A33E"/>
<rect x="765.16" y="595.45" width="11.6" height="21.55" fill="#BD2C31"/>
<rect x="796.25" y="582.14" width="11.6" height="34.86" fill="#2E5A8E"/>
<rect x="809.35" y="472.05" width="11.5" height="144.95" fill="#5E9849"/>
<rect x="822.45" y="431.35" width="11.6" height="185.65" fill="#E7A33E"/>
<rect x="835.55" y="588.54" width="11.6" height="28.46" fill="#BD2C31"/>
<rect x="866.64" y="582.14" width="11.6" height="34.86" fill="#2E5A8E"/>
<rect x="879.74" y="588.8" width="11.5" height="28.2" fill="#5E9849"/>
<rect x="892.84" y="584.19" width="11.6" height="32.81" fill="#E7A33E"/>
<rect x="905.94" y="567.55" width="11.6" height="49.45" fill="#BD2C31"/>
<rect x="935.43" y="582.14" width="13.2" height="34.86" fill="#2E5A8E"/>
<rect x="950.13" y="562.43" width="11.5" height="54.57" fill="#5E9849"/>
<rect x="963.23" y="569.08" width="11.6" height="47.92" fill="#E7A33E"/>
<rect x="976.33" y="609.53" width="11.6" height="7.47" fill="#BD2C31"/>
<rect x="1005.82" y="582.14" width="13.2" height="34.86" fill="#2E5A8E"/>
<rect x="1020.52" y="600.32" width="11.5" height="16.68" fill="#5E9849"/>
<rect x="1033.62" y="600.32" width="11.6" height="16.68" fill="#E7A33E"/>
<rect x="1046.72" y="603.65" width="11.6" height="13.35" fill="#BD2C31"/>
<rect x="1076.21" y="582.14" width="13.2" height="34.86" fill="#2E5A8E"/>
<rect x="1090.91" y="593.41" width="11.5" height="23.59" fill="#5E9849"/>
<rect x="1104.01" y="574.97" width="11.6" height="42.03" fill="#E7A33E"/>
<rect x="1117.11" y="587.01" width="11.6" height="29.99" fill="#BD2C31"/>
<rect x="1146.6" y="582.14" width="13.2" height="34.86" fill="#2E5A8E"/>
<rect x="1161.3" y="516.86" width="11.5" height="100.14" fill="#5E9849"/>
<rect x="1174.4" y="554.49" width="11.6" height="62.51" fill="#E7A33E"/>
<rect x="1187.5" y="593.41" width="11.6" height="23.59" fill="#BD2C31"/>
<rect x="1216.99" y="582.14" width="13.2" height="34.86" fill="#2E5A8E"/>
<rect x="1231.69" y="503.54" width="11.5" height="113.46" fill="#5E9849"/>
<rect x="1244.79" y="513.02" width="11.6" height="103.98" fill="#E7A33E"/>
<rect x="1257.89" y="590.33" width="11.6" height="26.67" fill="#BD2C31"/>
<rect x="1287.38" y="582.14" width="13.2" height="34.86" fill="#2E5A8E"/>
<rect x="1302.08" y="551.16" width="11.5" height="65.84" fill="#5E9849"/>
<rect x="1315.18" y="532.73" width="11.6" height="84.27" fill="#E7A33E"/>
<rect x="1328.28" y="560.89" width="11.6" height="56.11" fill="#BD2C31"/>
<rect x="1357.77" y="582.14" width="13.2" height="34.86" fill="#2E5A8E"/>
<rect x="1372.47" y="600.32" width="11.5" height="16.68" fill="#5E9849"/>
<rect x="1385.57" y="604.93" width="11.6" height="12.07" fill="#E7A33E"/>
<rect x="1398.67" y="604.93" width="11.6" height="12.07" fill="#BD2C31"/>
<rect x="1428.16" y="582.14" width="13.2" height="34.86" fill="#2E5A8E"/>
<rect x="1442.86" y="590.33" width="11.5" height="26.67" fill="#5E9849"/>
<rect x="1455.96" y="608.25" width="11.6" height="8.75" fill="#E7A33E"/>
<rect x="1469.06" y="596.48" width="11.6" height="20.52" fill="#BD2C31"/>
<line x1="83.5" x2="83.5" y1="62" y2="618" stroke="#000" stroke-width="2.1"/>
<line x1="82.5" x2="1501.6" y1="617" y2="617" stroke="#000" stroke-width="2.1"/>
<path d="M98.2 579.07V584.7M94 579.07h8.4M94 584.7h8.4" stroke="#000" stroke-width="1.65" fill="none"/>
<path d="M111.3 66.27V145.38M107.1 66.27h8.4M107.1 145.38h8.4" stroke="#000" stroke-width="1.65" fill="none"/>
<use href="#st" x="111.6" y="60.27"/>
<path d="M124.35 374.51V388.34M120.15 374.51h8.4M120.15 388.34h8.4" stroke="#000" stroke-width="1.65" fill="none"/>
<use href="#st" x="124.65" y="366.51"/>
<path d="M137.45 478.97V486.13M133.25 478.97h8.4M133.25 486.13h8.4" stroke="#000" stroke-width="1.65" fill="none"/>
<use href="#st" x="137.75" y="470.97"/>
<path d="M168.59 577.53V586.49M164.39 577.53h8.4M164.39 586.49h8.4" stroke="#000" stroke-width="1.65" fill="none"/>
<path d="M181.69 567.8V582.91M177.49 567.8h8.4M177.49 582.91h8.4" stroke="#000" stroke-width="1.65" fill="none"/>
<path d="M194.74 587.26V599.29M190.54 587.26h8.4M190.54 599.29h8.4" stroke="#000" stroke-width="1.65" fill="none"/>
<path d="M207.84 597.5V602.62M203.64 597.5h8.4M203.64 602.62h8.4" stroke="#000" stroke-width="1.65" fill="none"/>
<use href="#st" x="208.14" y="589.5"/>
<path d="M238.98 574.46V588.03M234.78 574.46h8.4M234.78 588.03h8.4" stroke="#000" stroke-width="1.65" fill="none"/>
<path d="M252.08 582.91V583.42M247.88 582.91h8.4M247.88 583.42h8.4" stroke="#000" stroke-width="1.65" fill="none"/>
<path d="M265.13 600.57V602.37M260.93 600.57h8.4M260.93 602.37h8.4" stroke="#000" stroke-width="1.65" fill="none"/>
<use href="#st" x="265.43" y="592.57"/>
<path d="M278.23 605.18V605.69M274.03 605.18h8.4M274.03 605.69h8.4" stroke="#000" stroke-width="1.65" fill="none"/>
<use href="#st" x="278.53" y="597.18"/>
<path d="M309.37 576V588.03M305.17 576h8.4M305.17 588.03h8.4" stroke="#000" stroke-width="1.65" fill="none"/>
<path d="M322.47 400.37V502.78M318.27 400.37h8.4M318.27 502.78h8.4" stroke="#000" stroke-width="1.65" fill="none"/>
<use href="#st" x="322.77" y="392.37"/>
<path d="M335.52 554.75V562.94M331.32 554.75h8.4M331.32 562.94h8.4" stroke="#000" stroke-width="1.65" fill="none"/>
<use href="#st" x="335.82" y="546.75"/>
<path d="M348.62 573.18V576.76M344.42 573.18h8.4M344.42 576.76h8.4" stroke="#000" stroke-width="1.65" fill="none"/>
<use href="#st" x="348.92" y="565.18"/>
<path d="M379.76 579.07V584.7M375.56 579.07h8.4M375.56 584.7h8.4" stroke="#000" stroke-width="1.65" fill="none"/>
<path d="M392.86 549.88V566.78M388.66 549.88h8.4M388.66 566.78h8.4" stroke="#000" stroke-width="1.65" fill="none"/>
<use href="#st" x="393.16" y="541.88"/>
<path d="M405.91 528.63V535.29M401.71 528.63h8.4M401.71 535.29h8.4" stroke="#000" stroke-width="1.65" fill="none"/>
<use href="#st" x="406.21" y="520.63"/>
<path d="M419.01 572.67V581.63M414.81 572.67h8.4M414.81 581.63h8.4" stroke="#000" stroke-width="1.65" fill="none"/>
<use href="#st" x="419.31" y="564.67"/>
<path d="M450.15 579.07V584.7M445.95 579.07h8.4M445.95 584.7h8.4" stroke="#000" stroke-width="1.65" fill="none"/>
<path d="M463.25 570.88V573.18M459.05 570.88h8.4M459.05 573.18h8.4" stroke="#000" stroke-width="1.65" fill="none"/>
<use href="#st" x="463.55" y="562.88"/>
<path d="M476.3 535.03V553.47M472.1 535.03h8.4M472.1 553.47h8.4" stroke="#000" stroke-width="1.65" fill="none"/>
<use href="#st" x="476.6" y="527.03"/>
<path d="M489.4 587.26V594.69M485.2 587.26h8.4M485.2 594.69h8.4" stroke="#000" stroke-width="1.65" fill="none"/>
<path d="M520.54 567.8V592.64M516.34 567.8h8.4M516.34 592.64h8.4" stroke="#000" stroke-width="1.65" fill="none"/>
<path d="M533.64 584.19V596.22M529.44 584.19h8.4M529.44 596.22h8.4" stroke="#000" stroke-width="1.65" fill="none"/>
<path d="M546.69 569.34V581.63M542.49 569.34h8.4M542.49 581.63h8.4" stroke="#000" stroke-width="1.65" fill="none"/>
<path d="M559.79 587.52V589.57M555.59 587.52h8.4M555.59 589.57h8.4" stroke="#000" stroke-width="1.65" fill="none"/>
<path d="M590.93 579.07V586.24M586.73 579.07h8.4M586.73 586.24h8.4" stroke="#000" stroke-width="1.65" fill="none"/>
<path d="M604.03 513.78V545.27M599.83 513.78h8.4M599.83 545.27h8.4" stroke="#000" stroke-width="1.65" fill="none"/>
<use href="#st" x="604.33" y="505.78"/>
<path d="M617.08 577.53V583.16M612.88 577.53h8.4M612.88 583.16h8.4" stroke="#000" stroke-width="1.65" fill="none"/>
<path d="M630.18 610.81V611.33M625.98 610.81h8.4M625.98 611.33h8.4" stroke="#000" stroke-width="1.65" fill="none"/>
<use href="#st" x="630.48" y="602.81"/>
<path d="M661.32 580.6V584.7M657.12 580.6h8.4M657.12 584.7h8.4" stroke="#000" stroke-width="1.65" fill="none"/>
<path d="M674.42 587.26V592.64M670.22 587.26h8.4M670.22 592.64h8.4" stroke="#000" stroke-width="1.65" fill="none"/>
<path d="M687.47 601.85V602.37M683.27 601.85h8.4M683.27 602.37h8.4" stroke="#000" stroke-width="1.65" fill="none"/>
<use href="#st" x="687.77" y="593.85"/>
<path d="M700.57 606.46V606.97M696.37 606.46h8.4M696.37 606.97h8.4" stroke="#000" stroke-width="1.65" fill="none"/>
<use href="#st" x="700.87" y="598.46"/>
<path d="M731.71 572.67V589.57M727.51 572.67h8.4M727.51 589.57h8.4" stroke="#000" stroke-width="1.65" fill="none"/>
<path d="M744.81 578.81V591.1M740.61 578.81h8.4M740.61 591.1h8.4" stroke="#000" stroke-width="1.65" fill="none"/>
<path d="M757.86 591.87V596.22M753.66 591.87h8.4M753.66 596.22h8.4" stroke="#000" stroke-width="1.65" fill="none"/>
<use href="#st" x="758.16" y="583.87"/>
<path d="M770.96 592.89V597.76M766.76 592.89h8.4M766.76 597.76h8.4" stroke="#000" stroke-width="1.65" fill="none"/>
<use href="#st" x="771.26" y="584.89"/>
<path d="M802.1 576V588.03M797.9 576h8.4M797.9 588.03h8.4" stroke="#000" stroke-width="1.65" fill="none"/>
<path d="M815.2 457.97V484.85M811 457.97h8.4M811 484.85h8.4" stroke="#000" stroke-width="1.65" fill="none"/>
<use href="#st" x="815.5" y="449.97"/>
<path d="M828.25 359.66V483.06M824.05 359.66h8.4M824.05 483.06h8.4" stroke="#000" stroke-width="1.65" fill="none"/>
<use href="#st" x="828.55" y="351.66"/>
<path d="M841.35 587.52V589.57M837.15 587.52h8.4M837.15 589.57h8.4" stroke="#000" stroke-width="1.65" fill="none"/>
<path d="M872.49 580.86V584.7M868.29 580.86h8.4M868.29 584.7h8.4" stroke="#000" stroke-width="1.65" fill="none"/>
<path d="M885.59 585.98V591.1M881.39 585.98h8.4M881.39 591.1h8.4" stroke="#000" stroke-width="1.65" fill="none"/>
<path d="M898.64 581.12V586.49M894.44 581.12h8.4M894.44 586.49h8.4" stroke="#000" stroke-width="1.65" fill="none"/>
<path d="M911.74 566.01V570.11M907.54 566.01h8.4M907.54 570.11h8.4" stroke="#000" stroke-width="1.65" fill="none"/>
<path d="M942.88 580.86V584.7M938.68 580.86h8.4M938.68 584.7h8.4" stroke="#000" stroke-width="1.65" fill="none"/>
<path d="M955.98 544.76V576.76M951.78 544.76h8.4M951.78 576.76h8.4" stroke="#000" stroke-width="1.65" fill="none"/>
<use href="#st" x="956.28" y="536.76"/>
<path d="M969.03 564.48V572.67M964.83 564.48h8.4M964.83 572.67h8.4" stroke="#000" stroke-width="1.65" fill="none"/>
<path d="M982.13 608.77V609.28M977.93 608.77h8.4M977.93 609.28h8.4" stroke="#000" stroke-width="1.65" fill="none"/>
<use href="#st" x="982.43" y="600.77"/>
<path d="M1013.27 579.32V586.49M1009.07 579.32h8.4M1009.07 586.49h8.4" stroke="#000" stroke-width="1.65" fill="none"/>
<path d="M1026.37 599.04V600.83M1022.17 599.04h8.4M1022.17 600.83h8.4" stroke="#000" stroke-width="1.65" fill="none"/>
<use href="#st" x="1026.67" y="591.04"/>
<path d="M1039.42 597.76V600.83M1035.22 597.76h8.4M1035.22 600.83h8.4" stroke="#000" stroke-width="1.65" fill="none"/>
<use href="#st" x="1039.72" y="589.76"/>
<path d="M1052.52 602.37V604.41M1048.32 602.37h8.4M1048.32 604.41h8.4" stroke="#000" stroke-width="1.65" fill="none"/>
<use href="#st" x="1052.82" y="594.37"/>
<path d="M1083.66 577.79V586.49M1079.46 577.79h8.4M1079.46 586.49h8.4" stroke="#000" stroke-width="1.65" fill="none"/>
<path d="M1096.76 592.64V594.17M1092.56 592.64h8.4M1092.56 594.17h8.4" stroke="#000" stroke-width="1.65" fill="none"/>
<path d="M1109.81 574.46V574.97M1105.61 574.46h8.4M1105.61 574.97h8.4" stroke="#000" stroke-width="1.65" fill="none"/>
<path d="M1122.91 582.65V589.57M1118.71 582.65h8.4M1118.71 589.57h8.4" stroke="#000" stroke-width="1.65" fill="none"/>
<path d="M1154.05 576V588.03M1149.85 576h8.4M1149.85 588.03h8.4" stroke="#000" stroke-width="1.65" fill="none"/>
<path d="M1167.15 478.97V543.74M1162.95 478.97h8.4M1162.95 543.74h8.4" stroke="#000" stroke-width="1.65" fill="none"/>
<use href="#st" x="1167.45" y="470.97"/>
<path d="M1180.2 543.23V563.45M1176 543.23h8.4M1176 563.45h8.4" stroke="#000" stroke-width="1.65" fill="none"/>
<use href="#st" x="1180.5" y="535.23"/>
<path d="M1193.3 590.59V594.94M1189.1 590.59h8.4M1189.1 594.94h8.4" stroke="#000" stroke-width="1.65" fill="none"/>
<path d="M1224.44 572.67V589.57M1220.24 572.67h8.4M1220.24 589.57h8.4" stroke="#000" stroke-width="1.65" fill="none"/>
<path d="M1237.54 500.73V505.85M1233.34 500.73h8.4M1233.34 505.85h8.4" stroke="#000" stroke-width="1.65" fill="none"/>
<use href="#st" x="1237.84" y="492.73"/>
<path d="M1250.59 505.59V520.95M1246.39 505.59h8.4M1246.39 520.95h8.4" stroke="#000" stroke-width="1.65" fill="none"/>
<use href="#st" x="1250.89" y="497.59"/>
<path d="M1263.69 589.31V591.1M1259.49 589.31h8.4M1259.49 591.1h8.4" stroke="#000" stroke-width="1.65" fill="none"/>
<path d="M1294.83 576V588.03M1290.63 576h8.4M1290.63 588.03h8.4" stroke="#000" stroke-width="1.65" fill="none"/>
<path d="M1307.93 532.22V564.99M1303.73 532.22h8.4M1303.73 564.99h8.4" stroke="#000" stroke-width="1.65" fill="none"/>
<use href="#st" x="1308.23" y="524.22"/>
<path d="M1320.98 520.18V543.74M1316.78 520.18h8.4M1316.78 543.74h8.4" stroke="#000" stroke-width="1.65" fill="none"/>
<use href="#st" x="1321.28" y="512.18"/>
<path d="M1334.08 554.75V567.04M1329.88 554.75h8.4M1329.88 567.04h8.4" stroke="#000" stroke-width="1.65" fill="none"/>
<use href="#st" x="1334.38" y="546.75"/>
<path d="M1365.22 569.6V591.1M1361.02 569.6h8.4M1361.02 591.1h8.4" stroke="#000" stroke-width="1.65" fill="none"/>
<path d="M1378.32 595.97V604.41M1374.12 595.97h8.4M1374.12 604.41h8.4" stroke="#000" stroke-width="1.65" fill="none"/>
<use href="#st" x="1378.62" y="587.97"/>
<path d="M1391.37 603.9V605.44M1387.17 603.9h8.4M1387.17 605.44h8.4" stroke="#000" stroke-width="1.65" fill="none"/>
<use href="#st" x="1391.67" y="595.9"/>
<path d="M1404.47 604.16V604.67M1400.27 604.16h8.4M1400.27 604.67h8.4" stroke="#000" stroke-width="1.65" fill="none"/>
<use href="#st" x="1404.77" y="596.16"/>
<path d="M1435.61 571.13V591.1M1431.41 571.13h8.4M1431.41 591.1h8.4" stroke="#000" stroke-width="1.65" fill="none"/>
<path d="M1448.71 579.07V596.22M1444.51 579.07h8.4M1444.51 596.22h8.4" stroke="#000" stroke-width="1.65" fill="none"/>
<path d="M1461.76 607.74V608.25M1457.56 607.74h8.4M1457.56 608.25h8.4" stroke="#000" stroke-width="1.65" fill="none"/>
<use href="#st" x="1462.06" y="599.74"/>
<path d="M1474.86 595.71V596.48M1470.66 595.71h8.4M1470.66 596.48h8.4" stroke="#000" stroke-width="1.65" fill="none"/>
<use href="#st" x="1475.16" y="587.71"/>
<text x="117.59" y="640" text-anchor="middle" font-size="15.8" letter-spacing="0.4">S29</text>
<text x="187.98" y="640" text-anchor="middle" font-size="15.8" letter-spacing="0.4">JP</text>
<text x="258.38" y="640" text-anchor="middle" font-size="15.8" letter-spacing="0.4">1A</text>
<text x="328.77" y="640" text-anchor="middle" font-size="15.8" letter-spacing="0.4">1D</text>
<text x="399.16" y="640" text-anchor="middle" font-size="15.8" letter-spacing="0.4">2A</text>
<text x="469.55" y="640" text-anchor="middle" font-size="15.8" letter-spacing="0.4">2B</text>
<text x="539.94" y="640" text-anchor="middle" font-size="15.8" letter-spacing="0.4">2D</text>
<text x="610.33" y="640" text-anchor="middle" font-size="15.8" letter-spacing="0.4">3A</text>
<text x="680.72" y="640" text-anchor="middle" font-size="15.8" letter-spacing="0.4">3B</text>
<text x="751.11" y="640" text-anchor="middle" font-size="15.8" letter-spacing="0.4">3D</text>
<text x="821.5" y="640" text-anchor="middle" font-size="15.8" letter-spacing="0.4">4A</text>
<text x="891.89" y="640" text-anchor="middle" font-size="15.8" letter-spacing="0.4">4B</text>
<text x="962.28" y="640" text-anchor="middle" font-size="15.8" letter-spacing="0.4">4D</text>
<text x="1032.66" y="640" text-anchor="middle" font-size="15.8" letter-spacing="0.4">5A</text>
<text x="1103.05" y="640" text-anchor="middle" font-size="15.8" letter-spacing="0.4">5B</text>
<text x="1173.44" y="640" text-anchor="middle" font-size="15.8" letter-spacing="0.4">5D</text>
<text x="1243.83" y="640" text-anchor="middle" font-size="15.8" letter-spacing="0.4">6A</text>
<text x="1314.22" y="640" text-anchor="middle" font-size="15.8" letter-spacing="0.4">6B</text>
<text x="1384.61" y="640" text-anchor="middle" font-size="15.8" letter-spacing="0.4">7B</text>
<text x="1455" y="640" text-anchor="middle" font-size="15.8" letter-spacing="0.4">7D</text>
<text x="787" y="669.8" text-anchor="middle" font-size="16" font-weight="bold" stroke="#000" stroke-width="0.25" letter-spacing="0.1">Genotype</text>
<text transform="translate(31.4,340) rotate(-90)" text-anchor="middle" font-size="16" font-weight="bold" stroke="#000" stroke-width="0.25" letter-spacing="0.1">Relative expression level</text>
<rect x="330" y="5.1" width="14.8" height="14.6" fill="#2E5A8E"/>
<text x="354.5" y="18.3" font-size="16.4">Control</text>
<rect x="629.5" y="5.1" width="16.6" height="14.6" fill="#5E9849"/>
<text x="655.2" y="18.3" font-size="16.4">1h</text>
<rect x="894.9" y="5.1" width="15" height="14.6" fill="#E7A33E"/>
<text x="918.5" y="18.3" font-size="16.4">3h</text>
<rect x="1158.4" y="5.1" width="16.5" height="14.6" fill="#BD2C31"/>
<text x="1183.6" y="18.3" font-size="16.4">6h</text>
<text x="87.4" y="13.6" font-size="26" font-weight="bold" font-family='"Liberation Serif", serif'>b</text>
</g>
<g transform="translate(0,1594) scale(1)" opacity="0.999">
<text x="64" y="623" text-anchor="end" font-size="16">0</text>
<line x1="83.5" x2="1491.3" y1="478" y2="478" stroke="#b9b9b9" stroke-width="2"/>
<text x="64" y="485.4" text-anchor="end" font-size="16">3.5</text>
<line x1="83.5" x2="1491.3" y1="340" y2="340" stroke="#b9b9b9" stroke-width="2"/>
<text x="64" y="346" text-anchor="end" font-size="16">7</text>
<line x1="83.5" x2="1491.3" y1="201" y2="201" stroke="#b9b9b9" stroke-width="2"/>
<text x="64" y="208.3" text-anchor="end" font-size="16">10.5</text>
<line x1="83.5" x2="1491.3" y1="63" y2="63" stroke="#b9b9b9" stroke-width="2"/>
<text x="62.7" y="69.25" text-anchor="end" font-size="16">14</text>
<rect x="92.6" y="577.02" width="11.5" height="39.98" fill="#2E5A8E"/>
<rect x="105.8" y="559.1" width="11.4" height="57.9" fill="#5E9849"/>
<rect x="118.5" y="226.1" width="13.4" height="390.9" fill="#E7A33E"/>
<rect x="131.9" y="555.52" width="13.1" height="61.48" fill="#BD2C31"/>
<rect x="162.99" y="577.02" width="11.5" height="39.98" fill="#2E5A8E"/>
<rect x="176.19" y="582.39" width="11.4" height="34.61" fill="#5E9849"/>
<rect x="188.89" y="585.46" width="13.4" height="31.54" fill="#E7A33E"/>
<rect x="202.29" y="552.44" width="13.1" height="64.56" fill="#BD2C31"/>
<rect x="233.38" y="577.02" width="11.5" height="39.98" fill="#2E5A8E"/>
<rect x="246.58" y="588.53" width="11.4" height="28.47" fill="#5E9849"/>
<rect x="259.28" y="536.06" width="13.4" height="80.94" fill="#E7A33E"/>
<rect x="272.68" y="472.33" width="13.1" height="144.67" fill="#BD2C31"/>
<rect x="303.77" y="577.02" width="11.5" height="39.98" fill="#2E5A8E"/>
<rect x="316.97" y="257.33" width="11.4" height="359.67" fill="#5E9849"/>
<rect x="329.67" y="487.18" width="13.4" height="129.82" fill="#E7A33E"/>
<rect x="343.07" y="516.35" width="13.1" height="100.65" fill="#BD2C31"/>
<rect x="374.16" y="577.02" width="11.5" height="39.98" fill="#2E5A8E"/>
<rect x="387.36" y="593.14" width="11.4" height="23.86" fill="#5E9849"/>
<rect x="400.06" y="557.31" width="13.4" height="59.69" fill="#E7A33E"/>
<rect x="413.46" y="519.68" width="13.1" height="97.32" fill="#BD2C31"/>
<rect x="444.55" y="577.02" width="11.5" height="39.98" fill="#2E5A8E"/>
<rect x="457.75" y="334.37" width="11.4" height="282.63" fill="#5E9849"/>
<rect x="470.45" y="331.3" width="13.4" height="285.7" fill="#E7A33E"/>
<rect x="483.85" y="560.89" width="13.1" height="56.11" fill="#BD2C31"/>
<rect x="514.94" y="577.02" width="11.5" height="39.98" fill="#2E5A8E"/>
<rect x="528.14" y="601.59" width="11.4" height="15.41" fill="#5E9849"/>
<rect x="540.84" y="490.25" width="13.4" height="126.75" fill="#E7A33E"/>
<rect x="554.24" y="478.73" width="13.1" height="138.27" fill="#BD2C31"/>
<rect x="585.33" y="577.02" width="11.5" height="39.98" fill="#2E5A8E"/>
<rect x="598.53" y="553.98" width="11.4" height="63.02" fill="#5E9849"/>
<rect x="611.23" y="590.07" width="13.4" height="26.93" fill="#E7A33E"/>
<rect x="624.63" y="563.96" width="13.1" height="53.04" fill="#BD2C31"/>
<rect x="655.72" y="577.02" width="11.5" height="39.98" fill="#2E5A8E"/>
<rect x="668.92" y="414.48" width="11.4" height="202.52" fill="#5E9849"/>
<rect x="681.62" y="606.2" width="13.4" height="10.8" fill="#E7A33E"/>
<rect x="695.02" y="469" width="13.1" height="148" fill="#BD2C31"/>
<rect x="726.11" y="577.02" width="11.5" height="39.98" fill="#2E5A8E"/>
<rect x="739.31" y="603.38" width="11.4" height="13.62" fill="#5E9849"/>
<rect x="752.01" y="596.73" width="13.4" height="20.27" fill="#E7A33E"/>
<rect x="765.41" y="593.14" width="13.1" height="23.86" fill="#BD2C31"/>
<rect x="796.5" y="577.02" width="11.5" height="39.98" fill="#2E5A8E"/>
<rect x="809.7" y="529.66" width="11.4" height="87.34" fill="#5E9849"/>
<rect x="822.4" y="524.55" width="13.4" height="92.45" fill="#E7A33E"/>
<rect x="835.8" y="470.54" width="13.1" height="146.46" fill="#BD2C31"/>
<rect x="866.89" y="577.02" width="11.5" height="39.98" fill="#2E5A8E"/>
<rect x="880.09" y="609.78" width="11.4" height="7.22" fill="#5E9849"/>
<rect x="892.79" y="459.28" width="13.4" height="157.72" fill="#E7A33E"/>
<rect x="906.19" y="569.08" width="13.1" height="47.92" fill="#BD2C31"/>
<rect x="937.28" y="577.02" width="11.5" height="39.98" fill="#2E5A8E"/>
<rect x="950.48" y="601.84" width="11.4" height="15.16" fill="#5E9849"/>
<rect x="963.18" y="549.37" width="13.4" height="67.63" fill="#E7A33E"/>
<rect x="976.58" y="596.98" width="13.1" height="20.02" fill="#BD2C31"/>
<rect x="1007.67" y="577.02" width="11.5" height="39.98" fill="#2E5A8E"/>
<rect x="1020.87" y="614.64" width="11.4" height="2.36" fill="#5E9849"/>
<rect x="1033.57" y="614.13" width="13.4" height="2.87" fill="#E7A33E"/>
<rect x="1046.97" y="560.89" width="13.1" height="56.11" fill="#BD2C31"/>
<rect x="1078.06" y="577.02" width="11.5" height="39.98" fill="#2E5A8E"/>
<rect x="1091.26" y="614.39" width="11.4" height="2.61" fill="#5E9849"/>
<rect x="1103.96" y="608.5" width="13.4" height="8.5" fill="#E7A33E"/>
<rect x="1117.36" y="608.24" width="13.1" height="8.76" fill="#BD2C31"/>
<rect x="1148.45" y="577.02" width="11.5" height="39.98" fill="#2E5A8E"/>
<rect x="1161.65" y="513.28" width="11.4" height="103.72" fill="#5E9849"/>
<rect x="1174.35" y="559.1" width="13.4" height="57.9" fill="#E7A33E"/>
<rect x="1187.75" y="595.19" width="13.1" height="21.81" fill="#BD2C31"/>
<rect x="1218.84" y="577.02" width="11.5" height="39.98" fill="#2E5A8E"/>
<rect x="1232.04" y="424.47" width="11.4" height="192.53" fill="#5E9849"/>
<rect x="1244.74" y="441.1" width="13.4" height="175.9" fill="#E7A33E"/>
<rect x="1258.14" y="546.05" width="13.1" height="70.95" fill="#BD2C31"/>
<rect x="1289.23" y="577.02" width="11.5" height="39.98" fill="#2E5A8E"/>
<rect x="1302.43" y="615.67" width="11.4" height="1.33" fill="#5E9849"/>
<rect x="1315.13" y="613.11" width="13.4" height="3.89" fill="#E7A33E"/>
<rect x="1328.53" y="610.03" width="13.1" height="6.97" fill="#BD2C31"/>
<rect x="1359.62" y="577.02" width="11.5" height="39.98" fill="#2E5A8E"/>
<rect x="1372.82" y="604.92" width="11.4" height="12.08" fill="#5E9849"/>
<rect x="1385.52" y="611.06" width="13.4" height="5.94" fill="#E7A33E"/>
<rect x="1398.92" y="604.92" width="13.1" height="12.08" fill="#BD2C31"/>
<rect x="1430.01" y="577.02" width="11.5" height="39.98" fill="#2E5A8E"/>
<rect x="1443.21" y="603.12" width="11.4" height="13.88" fill="#5E9849"/>
<rect x="1455.91" y="596.73" width="13.4" height="20.27" fill="#E7A33E"/>
<rect x="1469.31" y="588.53" width="13.1" height="28.47" fill="#BD2C31"/>
<line x1="83.5" x2="83.5" y1="62" y2="618" stroke="#000" stroke-width="2.1"/>
<line x1="82.5" x2="1492.9" y1="617" y2="617" stroke="#000" stroke-width="2.1"/>
<path d="M98.5 569.34V584.44M94.3 569.34h8.4M94.3 584.44h8.4" stroke="#000" stroke-width="1.65" fill="none"/>
<path d="M111.35 543.23V569.59M107.15 543.23h8.4M107.15 569.59h8.4" stroke="#000" stroke-width="1.65" fill="none"/>
<use href="#st" x="111.65" y="535.23"/>
<path d="M124.6 98.89V322.08M120.4 98.89h8.4M120.4 322.08h8.4" stroke="#000" stroke-width="1.65" fill="none"/>
<use href="#st" x="124.9" y="90.89"/>
<path d="M139.1 531.97V573.18M134.9 531.97h8.4M134.9 573.18h8.4" stroke="#000" stroke-width="1.65" fill="none"/>
<use href="#st" x="139.4" y="523.97"/>
<path d="M168.89 561.15V587.77M164.69 561.15h8.4M164.69 587.77h8.4" stroke="#000" stroke-width="1.65" fill="none"/>
<path d="M181.74 561.15V594.17M177.54 561.15h8.4M177.54 594.17h8.4" stroke="#000" stroke-width="1.65" fill="none"/>
<path d="M194.99 557.56V599.28M190.79 557.56h8.4M190.79 599.28h8.4" stroke="#000" stroke-width="1.65" fill="none"/>
<path d="M209.49 497.16V581.37M205.29 497.16h8.4M205.29 581.37h8.4" stroke="#000" stroke-width="1.65" fill="none"/>
<path d="M239.28 544.77V594.17M235.08 544.77h8.4M235.08 594.17h8.4" stroke="#000" stroke-width="1.65" fill="none"/>
<path d="M252.13 580.6V594.17M247.93 580.6h8.4M247.93 594.17h8.4" stroke="#000" stroke-width="1.65" fill="none"/>
<path d="M265.38 480.78V568.31M261.18 480.78h8.4M261.18 568.31h8.4" stroke="#000" stroke-width="1.65" fill="none"/>
<use href="#st" x="265.68" y="472.78"/>
<path d="M279.88 425.23V507.4M275.68 425.23h8.4M275.68 507.4h8.4" stroke="#000" stroke-width="1.65" fill="none"/>
<use href="#st" x="280.18" y="417.23"/>
<path d="M309.67 562.68V587.77M305.47 562.68h8.4M305.47 587.77h8.4" stroke="#000" stroke-width="1.65" fill="none"/>
<path d="M322.52 115.53V358.43M318.32 115.53h8.4M318.32 358.43h8.4" stroke="#000" stroke-width="1.65" fill="none"/>
<use href="#st" x="322.82" y="107.53"/>
<path d="M335.77 448.01V517.38M331.57 448.01h8.4M331.57 517.38h8.4" stroke="#000" stroke-width="1.65" fill="none"/>
<use href="#st" x="336.07" y="440.01"/>
<path d="M350.27 485.9V538.62M346.07 485.9h8.4M346.07 538.62h8.4" stroke="#000" stroke-width="1.65" fill="none"/>
<use href="#st" x="350.57" y="477.9"/>
<path d="M380.06 557.56V589.3M375.86 557.56h8.4M375.86 589.3h8.4" stroke="#000" stroke-width="1.65" fill="none"/>
<path d="M392.91 582.65V601.08M388.71 582.65h8.4M388.71 601.08h8.4" stroke="#000" stroke-width="1.65" fill="none"/>
<use href="#st" x="393.21" y="574.65"/>
<path d="M406.16 536.32V571.39M401.96 536.32h8.4M401.96 571.39h8.4" stroke="#000" stroke-width="1.65" fill="none"/>
<path d="M420.66 469.51V551.68M416.46 469.51h8.4M416.46 551.68h8.4" stroke="#000" stroke-width="1.65" fill="none"/>
<use href="#st" x="420.96" y="461.51"/>
<path d="M450.45 569.34V582.9M446.25 569.34h8.4M446.25 582.9h8.4" stroke="#000" stroke-width="1.65" fill="none"/>
<path d="M463.3 300.58V363.29M459.1 300.58h8.4M459.1 363.29h8.4" stroke="#000" stroke-width="1.65" fill="none"/>
<use href="#st" x="463.6" y="292.58"/>
<path d="M476.55 249.9V394.52M472.35 249.9h8.4M472.35 394.52h8.4" stroke="#000" stroke-width="1.65" fill="none"/>
<use href="#st" x="476.85" y="241.9"/>
<path d="M491.05 521.73V584.44M486.85 521.73h8.4M486.85 584.44h8.4" stroke="#000" stroke-width="1.65" fill="none"/>
<path d="M520.84 553.21V592.37M516.64 553.21h8.4M516.64 592.37h8.4" stroke="#000" stroke-width="1.65" fill="none"/>
<path d="M533.69 596.98V605.68M529.49 596.98h8.4M529.49 605.68h8.4" stroke="#000" stroke-width="1.65" fill="none"/>
<use href="#st" x="533.99" y="588.98"/>
<path d="M546.94 423.7V532.22M542.74 423.7h8.4M542.74 532.22h8.4" stroke="#000" stroke-width="1.65" fill="none"/>
<use href="#st" x="547.24" y="415.7"/>
<path d="M561.44 458.51V494.34M557.24 458.51h8.4M557.24 494.34h8.4" stroke="#000" stroke-width="1.65" fill="none"/>
<use href="#st" x="561.74" y="450.51"/>
<path d="M591.23 569.34V584.44M587.03 569.34h8.4M587.03 584.44h8.4" stroke="#000" stroke-width="1.65" fill="none"/>
<path d="M604.08 521.73V576.25M599.88 521.73h8.4M599.88 576.25h8.4" stroke="#000" stroke-width="1.65" fill="none"/>
<use href="#st" x="604.38" y="513.73"/>
<path d="M617.33 580.86V596.21M613.13 580.86h8.4M613.13 596.21h8.4" stroke="#000" stroke-width="1.65" fill="none"/>
<path d="M631.83 554.49V571.39M627.63 554.49h8.4M627.63 571.39h8.4" stroke="#000" stroke-width="1.65" fill="none"/>
<path d="M661.62 562.68V587.77M657.42 562.68h8.4M657.42 587.77h8.4" stroke="#000" stroke-width="1.65" fill="none"/>
<path d="M674.47 358.17V458.25M670.27 358.17h8.4M670.27 458.25h8.4" stroke="#000" stroke-width="1.65" fill="none"/>
<use href="#st" x="674.77" y="350.17"/>
<path d="M687.72 603.89V607.22M683.52 603.89h8.4M683.52 607.22h8.4" stroke="#000" stroke-width="1.65" fill="none"/>
<use href="#st" x="688.02" y="595.89"/>
<path d="M702.22 433.42V496.13M698.02 433.42h8.4M698.02 496.13h8.4" stroke="#000" stroke-width="1.65" fill="none"/>
<use href="#st" x="702.52" y="425.42"/>
<path d="M732.01 564.47V586.23M727.81 564.47h8.4M727.81 586.23h8.4" stroke="#000" stroke-width="1.65" fill="none"/>
<path d="M744.86 590.84V609.27M740.66 590.84h8.4M740.66 609.27h8.4" stroke="#000" stroke-width="1.65" fill="none"/>
<use href="#st" x="745.16" y="582.84"/>
<path d="M758.11 590.84V602.36M753.91 590.84h8.4M753.91 602.36h8.4" stroke="#000" stroke-width="1.65" fill="none"/>
<use href="#st" x="758.41" y="582.84"/>
<path d="M772.61 583.93V599.28M768.41 583.93h8.4M768.41 599.28h8.4" stroke="#000" stroke-width="1.65" fill="none"/>
<path d="M802.4 553.21V590.84M798.2 553.21h8.4M798.2 590.84h8.4" stroke="#000" stroke-width="1.65" fill="none"/>
<path d="M815.25 498.95V551.68M811.05 498.95h8.4M811.05 551.68h8.4" stroke="#000" stroke-width="1.65" fill="none"/>
<use href="#st" x="815.55" y="490.95"/>
<path d="M828.5 349.73V584.44M824.3 349.73h8.4M824.3 584.44h8.4" stroke="#000" stroke-width="1.65" fill="none"/>
<use href="#st" x="828.8" y="341.73"/>
<path d="M843 469.77V470.79M838.8 469.77h8.4M838.8 470.79h8.4" stroke="#000" stroke-width="1.65" fill="none"/>
<use href="#st" x="843.3" y="461.77"/>
<path d="M872.79 569.34V582.9M868.59 569.34h8.4M868.59 582.9h8.4" stroke="#000" stroke-width="1.65" fill="none"/>
<path d="M885.64 594.42V613.87M881.44 594.42h8.4M881.44 613.87h8.4" stroke="#000" stroke-width="1.65" fill="none"/>
<use href="#st" x="885.94" y="586.42"/>
<path d="M898.89 425.23V486.15M894.69 425.23h8.4M894.69 486.15h8.4" stroke="#000" stroke-width="1.65" fill="none"/>
<use href="#st" x="899.19" y="417.23"/>
<path d="M913.39 564.47V573.18M909.19 564.47h8.4M909.19 573.18h8.4" stroke="#000" stroke-width="1.65" fill="none"/>
<path d="M943.18 572.67V581.37M938.98 572.67h8.4M938.98 581.37h8.4" stroke="#000" stroke-width="1.65" fill="none"/>
<path d="M956.03 590.84V607.22M951.83 590.84h8.4M951.83 607.22h8.4" stroke="#000" stroke-width="1.65" fill="none"/>
<use href="#st" x="956.33" y="582.84"/>
<path d="M969.28 523.52V568.31M965.08 523.52h8.4M965.08 568.31h8.4" stroke="#000" stroke-width="1.65" fill="none"/>
<use href="#st" x="969.58" y="515.52"/>
<path d="M983.78 590.84V601.08M979.58 590.84h8.4M979.58 601.08h8.4" stroke="#000" stroke-width="1.65" fill="none"/>
<path d="M1013.57 566.01V586.23M1009.37 566.01h8.4M1009.37 586.23h8.4" stroke="#000" stroke-width="1.65" fill="none"/>
<path d="M1026.42 614.39V614.9M1022.22 614.39h8.4M1022.22 614.9h8.4" stroke="#000" stroke-width="1.65" fill="none"/>
<use href="#st" x="1026.72" y="606.39"/>
<path d="M1039.67 613.36V613.87M1035.47 613.36h8.4M1035.47 613.87h8.4" stroke="#000" stroke-width="1.65" fill="none"/>
<use href="#st" x="1039.97" y="605.36"/>
<path d="M1054.17 546.81V573.18M1049.97 546.81h8.4M1049.97 573.18h8.4" stroke="#000" stroke-width="1.65" fill="none"/>
<path d="M1083.96 569.34V584.44M1079.76 569.34h8.4M1079.76 584.44h8.4" stroke="#000" stroke-width="1.65" fill="none"/>
<path d="M1096.81 613.62V614.13M1092.61 613.62h8.4M1092.61 614.13h8.4" stroke="#000" stroke-width="1.65" fill="none"/>
<use href="#st" x="1097.11" y="605.62"/>
<path d="M1110.06 607.73V608.76M1105.86 607.73h8.4M1105.86 608.76h8.4" stroke="#000" stroke-width="1.65" fill="none"/>
<use href="#st" x="1110.36" y="599.73"/>
<path d="M1124.56 602.36V610.55M1120.36 602.36h8.4M1120.36 610.55h8.4" stroke="#000" stroke-width="1.65" fill="none"/>
<use href="#st" x="1124.86" y="594.36"/>
<path d="M1154.35 564.47V587.77M1150.15 564.47h8.4M1150.15 587.77h8.4" stroke="#000" stroke-width="1.65" fill="none"/>
<path d="M1167.2 475.91V541.95M1163 475.91h8.4M1163 541.95h8.4" stroke="#000" stroke-width="1.65" fill="none"/>
<use href="#st" x="1167.5" y="467.91"/>
<path d="M1180.45 538.11V573.18M1176.25 538.11h8.4M1176.25 573.18h8.4" stroke="#000" stroke-width="1.65" fill="none"/>
<path d="M1194.95 592.37V596.98M1190.75 592.37h8.4M1190.75 596.98h8.4" stroke="#000" stroke-width="1.65" fill="none"/>
<use href="#st" x="1195.25" y="584.37"/>
<path d="M1224.74 547.84V594.17M1220.54 547.84h8.4M1220.54 594.17h8.4" stroke="#000" stroke-width="1.65" fill="none"/>
<path d="M1237.59 379.16V461.58M1233.39 379.16h8.4M1233.39 461.58h8.4" stroke="#000" stroke-width="1.65" fill="none"/>
<use href="#st" x="1237.89" y="371.16"/>
<path d="M1250.84 400.41V474.89M1246.64 400.41h8.4M1246.64 474.89h8.4" stroke="#000" stroke-width="1.65" fill="none"/>
<use href="#st" x="1251.14" y="392.41"/>
<path d="M1265.34 538.37V553.47M1261.14 538.37h8.4M1261.14 553.47h8.4" stroke="#000" stroke-width="1.65" fill="none"/>
<use href="#st" x="1265.64" y="530.37"/>
<path d="M1295.13 569.34V582.9M1290.93 569.34h8.4M1290.93 582.9h8.4" stroke="#000" stroke-width="1.65" fill="none"/>
<path d="M1307.98 615.15V615.92M1303.78 615.15h8.4M1303.78 615.92h8.4" stroke="#000" stroke-width="1.65" fill="none"/>
<use href="#st" x="1308.28" y="607.15"/>
<path d="M1321.23 611.83V613.87M1317.03 611.83h8.4M1317.03 613.87h8.4" stroke="#000" stroke-width="1.65" fill="none"/>
<use href="#st" x="1321.53" y="603.83"/>
<path d="M1335.73 610.03V610.55M1331.53 610.03h8.4M1331.53 610.55h8.4" stroke="#000" stroke-width="1.65" fill="none"/>
<use href="#st" x="1336.03" y="602.03"/>
<path d="M1365.52 557.56V589.3M1361.32 557.56h8.4M1361.32 589.3h8.4" stroke="#000" stroke-width="1.65" fill="none"/>
<path d="M1378.37 600.05V607.22M1374.17 600.05h8.4M1374.17 607.22h8.4" stroke="#000" stroke-width="1.65" fill="none"/>
<use href="#st" x="1378.67" y="592.05"/>
<path d="M1391.62 610.55V611.06M1387.42 610.55h8.4M1387.42 611.06h8.4" stroke="#000" stroke-width="1.65" fill="none"/>
<use href="#st" x="1391.92" y="602.55"/>
<path d="M1406.12 603.89V605.43M1401.92 603.89h8.4M1401.92 605.43h8.4" stroke="#000" stroke-width="1.65" fill="none"/>
<use href="#st" x="1406.42" y="595.89"/>
<path d="M1435.91 559.36V589.3M1431.71 559.36h8.4M1431.71 589.3h8.4" stroke="#000" stroke-width="1.65" fill="none"/>
<path d="M1448.76 596.98V605.68M1444.56 596.98h8.4M1444.56 605.68h8.4" stroke="#000" stroke-width="1.65" fill="none"/>
<use href="#st" x="1449.06" y="588.98"/>
<path d="M1462.01 593.65V599.28M1457.81 593.65h8.4M1457.81 599.28h8.4" stroke="#000" stroke-width="1.65" fill="none"/>
<use href="#st" x="1462.31" y="585.65"/>
<path d="M1476.51 583.93V594.17M1472.31 583.93h8.4M1472.31 594.17h8.4" stroke="#000" stroke-width="1.65" fill="none"/>
<text x="118.49" y="639.3" text-anchor="middle" font-size="15.8" letter-spacing="0.4">S29</text>
<text x="188.88" y="639.3" text-anchor="middle" font-size="15.8" letter-spacing="0.4">JP</text>
<text x="259.28" y="639.3" text-anchor="middle" font-size="15.8" letter-spacing="0.4">1A</text>
<text x="329.67" y="639.3" text-anchor="middle" font-size="15.8" letter-spacing="0.4">1D</text>
<text x="400.06" y="639.3" text-anchor="middle" font-size="15.8" letter-spacing="0.4">2A</text>
<text x="470.44" y="639.3" text-anchor="middle" font-size="15.8" letter-spacing="0.4">2B</text>
<text x="540.84" y="639.3" text-anchor="middle" font-size="15.8" letter-spacing="0.4">2D</text>
<text x="611.23" y="639.3" text-anchor="middle" font-size="15.8" letter-spacing="0.4">3A</text>
<text x="681.62" y="639.3" text-anchor="middle" font-size="15.8" letter-spacing="0.4">3B</text>
<text x="752.01" y="639.3" text-anchor="middle" font-size="15.8" letter-spacing="0.4">3D</text>
<text x="822.4" y="639.3" text-anchor="middle" font-size="15.8" letter-spacing="0.4">4A</text>
<text x="892.79" y="639.3" text-anchor="middle" font-size="15.8" letter-spacing="0.4">4B</text>
<text x="963.18" y="639.3" text-anchor="middle" font-size="15.8" letter-spacing="0.4">4D</text>
<text x="1033.57" y="639.3" text-anchor="middle" font-size="15.8" letter-spacing="0.4">5A</text>
<text x="1103.95" y="639.3" text-anchor="middle" font-size="15.8" letter-spacing="0.4">5B</text>
<text x="1174.34" y="639.3" text-anchor="middle" font-size="15.8" letter-spacing="0.4">5D</text>
<text x="1244.73" y="639.3" text-anchor="middle" font-size="15.8" letter-spacing="0.4">6A</text>
<text x="1315.12" y="639.3" text-anchor="middle" font-size="15.8" letter-spacing="0.4">6B</text>
<text x="1385.51" y="639.3" text-anchor="middle" font-size="15.8" letter-spacing="0.4">7B</text>
<text x="1455.9" y="639.3" text-anchor="middle" font-size="15.8" letter-spacing="0.4">7D</text>
<text x="787" y="668.9" text-anchor="middle" font-size="16" font-weight="bold" stroke="#000" stroke-width="0.25" letter-spacing="0.1">Genotype</text>
<text transform="translate(18.5,340) rotate(-90)" text-anchor="middle" font-size="16" font-weight="bold" stroke="#000" stroke-width="0.25" letter-spacing="0.1">Relative expression level</text>
<rect x="330" y="5.1" width="14.8" height="14.6" fill="#2E5A8E"/>
<text x="355.7" y="18.3" font-size="16.4">Control</text>
<rect x="629.5" y="5.1" width="16.6" height="14.6" fill="#5E9849"/>
<text x="656.4" y="18.3" font-size="16.4">1h</text>
<rect x="894.9" y="5.1" width="15" height="14.6" fill="#E7A33E"/>
<text x="919.7" y="18.3" font-size="16.4">3h</text>
<rect x="1158.4" y="5.1" width="16.5" height="14.6" fill="#BD2C31"/>
<text x="1184.8" y="18.3" font-size="16.4">6h</text>
<text x="90.2" y="13" font-size="26.5" font-weight="bold" font-family='"Liberation Serif", serif'>c</text>
</g>
</svg>
</body></html>
